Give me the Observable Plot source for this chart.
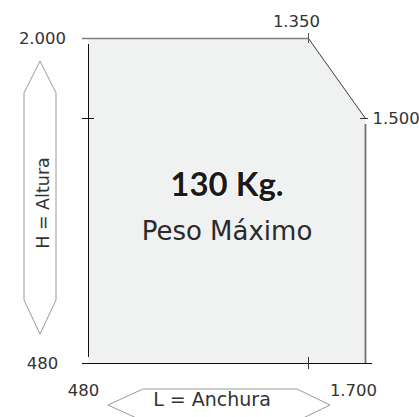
<!DOCTYPE html>
<html><head><meta charset="utf-8">
<script src="https://cdn.jsdelivr.net/npm/d3@7"></script>
<script src="https://cdn.jsdelivr.net/npm/@observablehq/plot@0.6"></script>
<style>body{margin:0;background:#fff}</style>
</head><body><div id="chart"></div>
<script>
// Dimensions (mm) of the load area
const widthTicks = [480, 1350, 1700];
const widthTickLabels = ["480", "1.350", "1.700"];
const heightTicks = [480, 1500, 2000];
const heightTickLabels = ["480", "1.500", "2.000"];
const shapeL = [480, 480, 1350, 1700, 1700];
const shapeH = [480, 2000, 2000, 1500, 480];
const weightLabel = ["130 Kg."];
const weightCaption = ["Peso Máximo"];
const heightTitle = ["H = Altura"];
const widthTitle = ["L = Anchura"];

const shape = shapeL.map((l, i) => ({l, h: shapeH[i]}));
const xLab = widthTicks.map((v, i) => ({v, label: widthTickLabels[i]}));
const yLab = heightTicks.map((v, i) => ({v, label: heightTickLabels[i]}));
const L0 = d3.min(shapeL), L1 = d3.max(shapeL), H0 = d3.min(shapeH), H1 = d3.max(shapeH);
const Lc = widthTicks[1], Hc = heightTicks[1];

const ink = "#333";
const tickFont = 16.5;
const regular = "'DejaVu Sans', sans-serif";

function arrows(index, scales) {
  const x0 = scales.x(L0), x1 = scales.x(L1), y0 = scales.y(H1), y1 = scales.y(H0);
  const g = d3.create("svg:g").attr("fill", "none").attr("stroke", "#9a9a9a").attr("stroke-width", 1);
  const cx = x0 - 48, hw = 16;
  g.append("path").attr("d", `M${cx},${y0 + 23}L${cx + hw},${y0 + 55}L${cx + hw},${y1 - 63}L${cx},${y1 - 29}L${cx - hw},${y1 - 63}L${cx - hw},${y0 + 55}Z`);
  const cy = y1 + 42, hh = 16;
  g.append("path").attr("d", `M${x0 + 20},${cy}L${x0 + 55},${cy - hh}L${x1 - 68},${cy - hh}L${x1 - 35},${cy}L${x1 - 68},${cy + hh}L${x0 + 55},${cy + hh}Z`);
  return g.node();
}

const chart = Plot.plot({
  width: 419, height: 417,
  marginLeft: 88, marginRight: 54, marginTop: 38, marginBottom: 54,
  x: {type: "linear", domain: widthTicks, range: [88, 308, 365], axis: null},
  y: {type: "linear", domain: heightTicks, range: [363, 118, 38], axis: null},
  style: {fontFamily: regular, background: "white", color: ink, overflow: "visible"},
  marks: [
    Plot.line(shape, {x: "l", y: "h", fill: "#f0f1f1", stroke: "none"}),
    // top edge
    Plot.ruleY([H1], {x1: L0, x2: Lc, insetLeft: -6, stroke: "#7f7f7f", strokeWidth: 1.6}),
    // diagonal edge
    Plot.line(shape.slice(2, 4), {x: "l", y: "h", stroke: "#3a3a3a", strokeWidth: 1}),
    // right edge
    Plot.ruleX([L1], {y1: H0, y2: Hc, insetBottom: -6, stroke: "#6f6f6f", strokeWidth: 1.8}),
    // axes
    Plot.ruleX([L0], {y1: H0, y2: H1, insetTop: -6, insetBottom: -6, stroke: "#111", strokeWidth: 1}),
    Plot.ruleY([H0], {x1: L0, x2: L1, insetLeft: -6, insetRight: -7, stroke: "#111", strokeWidth: 1}),
    // ticks
    Plot.ruleY([Hc], {x1: L0, x2: L0, insetLeft: -6, insetRight: -6, stroke: "#111", strokeWidth: 1}),
    Plot.ruleY([Hc], {x1: L1, x2: L1, insetLeft: -5, insetRight: -3, stroke: "#333", strokeWidth: 1}),
    Plot.ruleX([Lc], {y1: H0, y2: H0, insetTop: -6, insetBottom: -6, stroke: "#333", strokeWidth: 1}),
    Plot.ruleX([Lc], {y1: H1, y2: H1, insetTop: -5, insetBottom: -5, stroke: "#555", strokeWidth: 1}),
    // tick labels
    Plot.text(xLab.filter(d => d.v === L0), {x: "v", y: H0, text: "label", dx: -5, dy: 27, fontSize: tickFont, fill: ink}),
    Plot.text(xLab.filter(d => d.v === L1), {x: "v", y: H0, text: "label", dx: -12, dy: 27, fontSize: tickFont, fill: ink}),
    Plot.text(xLab.filter(d => d.v === Lc), {x: "v", y: H1, text: "label", dx: -12, dy: -17, fontSize: tickFont, fill: ink}),
    Plot.text(yLab.filter(d => d.v !== Hc), {x: L0, y: "v", text: "label", dx: -46, fontSize: tickFont, fill: ink}),
    Plot.text(yLab.filter(d => d.v === Hc), {x: L1, y: "v", text: "label", dx: 7, textAnchor: "start", fontSize: tickFont, fill: ink}),
    // central labels
    Plot.text(weightLabel, {frameAnchor: "middle", text: d => d, dy: -16, fontSize: 33, fontFamily: "Lato, sans-serif", fontWeight: "bold", fill: "#1a1a1a", stroke: "white", strokeWidth: 2}),
    Plot.text(weightCaption, {frameAnchor: "middle", text: d => d, dy: 31, fontSize: 26, fill: "#2a2a2a"}),
    // dimension arrows
    arrows,
    Plot.text(heightTitle, {frameAnchor: "left", textAnchor: "middle", text: d => d, dx: -45, dy: 2, rotate: -90, fontSize: 17.5, fill: ink}),
    Plot.text(widthTitle, {frameAnchor: "bottom", text: d => d, dx: -15, dy: 42, fontSize: 19, fill: ink})
  ]
});
document.getElementById("chart").append(chart);
</script></body></html>
